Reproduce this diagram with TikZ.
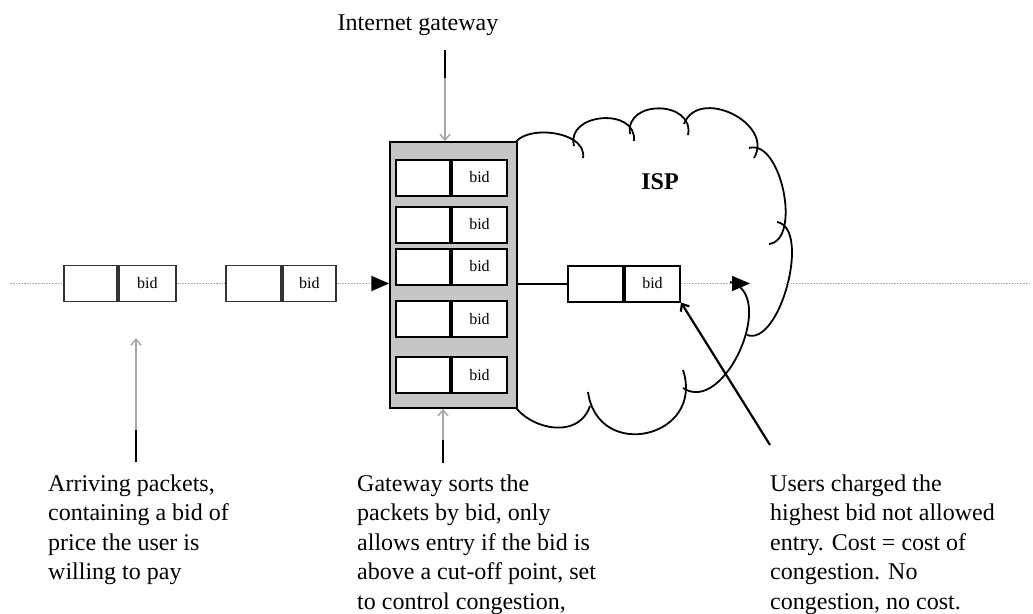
\documentclass[tikz,border=0pt]{standalone}
\usepackage{fontspec}
\setmainfont{Liberation Serif}
\usetikzlibrary{arrows.meta,calc}
\newcommand\cloudbump[4]{\draw[cloudline] (#1) .. controls ($(#1)!#3!#4:(#2)$) and ($(#2)!#3!-#4:(#1)$) .. (#2);}
\begin{document}
\begin{tikzpicture}[x=1pt,y=-1pt,
  txt/.style={font=\fontsize{24}{29.5}\selectfont, align=left, anchor=north west, inner sep=0pt},
  cell/.style={draw=black, line width=2pt, fill=white, minimum height=36pt, inner sep=0pt, font=\fontsize{16}{18}\selectfont},
  pcell/.style={cell, draw=black!80, line width=1.8pt},
  wire/.style={draw=gray!65, line width=1.8pt, densely dotted},
  bigtip/.style={-{Triangle[length=18pt,width=15pt,color=black]}},
  ptr/.style={line width=1.5pt, -{Straight Barb[length=6pt,width=10pt]}},
  cloudline/.style={line width=1.8pt, black},
]
\path[use as bounding box, fill=white] (0,0) rectangle (1033,613);

% cloud (ISP)
\cloudbump{512,152}{583,158}{0.42}{95}
\cloudbump{574,146}{634,141}{0.57}{100}
\cloudbump{630,134}{688,135}{0.61}{100}
\cloudbump{684,124}{754,158}{0.52}{95}
\cloudbump{749,148}{769,244}{0.34}{95}
\cloudbump{777,222}{747,335}{0.30}{95}
\cloudbump{730,282}{683,388}{0.43}{100}
\cloudbump{683,370}{588,392}{0.73}{95}
\cloudbump{590,406}{512,372}{0.58}{95}
\node[font=\bfseries\fontsize{24}{28}\selectfont] (isp) at (660,182) {ISP};

% gateway
\node[draw=black, line width=1.5pt, fill=gray!45, minimum width=127pt, minimum height=266pt, inner sep=0pt] (gw) at (453.5,275) {};
\foreach \r/\yy in {1/177.5, 2/224.5, 3/266.5, 4/319, 5/375} {
  \node[cell, minimum width=54pt, anchor=east] (g\r l) at (451,\yy) {};
  \node[cell, minimum width=55pt, anchor=west] (g\r r) at (451,\yy) {bid};
}

% packets
\node[pcell, minimum width=53pt, anchor=east] (p1l) at (118,283.5) {};
\node[pcell, minimum width=57pt, anchor=west] (p1r) at (118,283.5) {bid};
\node[pcell, minimum width=55pt, anchor=east] (p2l) at (282,283.5) {};
\node[pcell, minimum width=53pt, anchor=west] (p2r) at (282,283.5) {bid};
\node[cell, minimum width=55pt, anchor=east] (p3l) at (624,283.5) {};
\node[cell, minimum width=55pt, anchor=west] (p3r) at (624,283.5) {bid};

% main line
\coordinate (lstart) at (10,283.5);
\coordinate (tip2) at (750,283.5);
\coordinate (rs) at (785,283.5);
\coordinate (re) at (1030,283.5);
\draw[wire] (lstart) -- (p1l.west);
\draw[wire] (p1r.east) -- (p2l.west);
\draw[wire, bigtip] (p2r.east) -- (gw.west |- p2r.east);
\draw[line width=2pt] (gw.east |- p3l.west) -- (p3l.west);
\draw[wire, bigtip] (p3r.east) -- (tip2);
\draw[wire] (rs) -- (re);

% labels
\node[font=\fontsize{24}{28}\selectfont] (gwlabel) at (418,25) {Internet gateway};
\node[txt] (t1) at (48,474.5) {Arriving packets,\\containing a bid of\\price the user is\\willing to pay};
\node[txt] (t2) at (357,474.5) {Gateway sorts the\\packets by bid, only\\allows entry if the bid is\\above a cut-off point, set\\to control congestion,};
\node[txt] (t3) at (770,474.5) {Users charged the\\highest bid not allowed\\entry. Cost = cost of\\congestion. No\\congestion, no cost.};

% pointers
\coordinate (a1s) at (445,50);
\coordinate (a1m) at (445,78);
\draw[line width=1.5pt] (a1s) -- (a1m);
\draw[ptr, gray!70] (a1m) -- (a1m |- gw.north);

\coordinate (a2s) at (443,463);
\coordinate (a2m) at (443,440);
\draw[line width=1.5pt] (a2s) -- (a2m);
\draw[ptr, gray!70] (a2m) -- (a2m |- gw.south);

\coordinate (a3s) at (136,462);
\coordinate (a3m) at (136,430);
\coordinate (a3e) at (136,338);
\draw[line width=1.5pt] (a3s) -- (a3m);
\draw[ptr, gray!70] (a3m) -- (a3e);

\coordinate (a4s) at (770,445);
\draw[ptr, line width=2.2pt] (a4s) -- (p3r.south east);
\end{tikzpicture}
\end{document}
